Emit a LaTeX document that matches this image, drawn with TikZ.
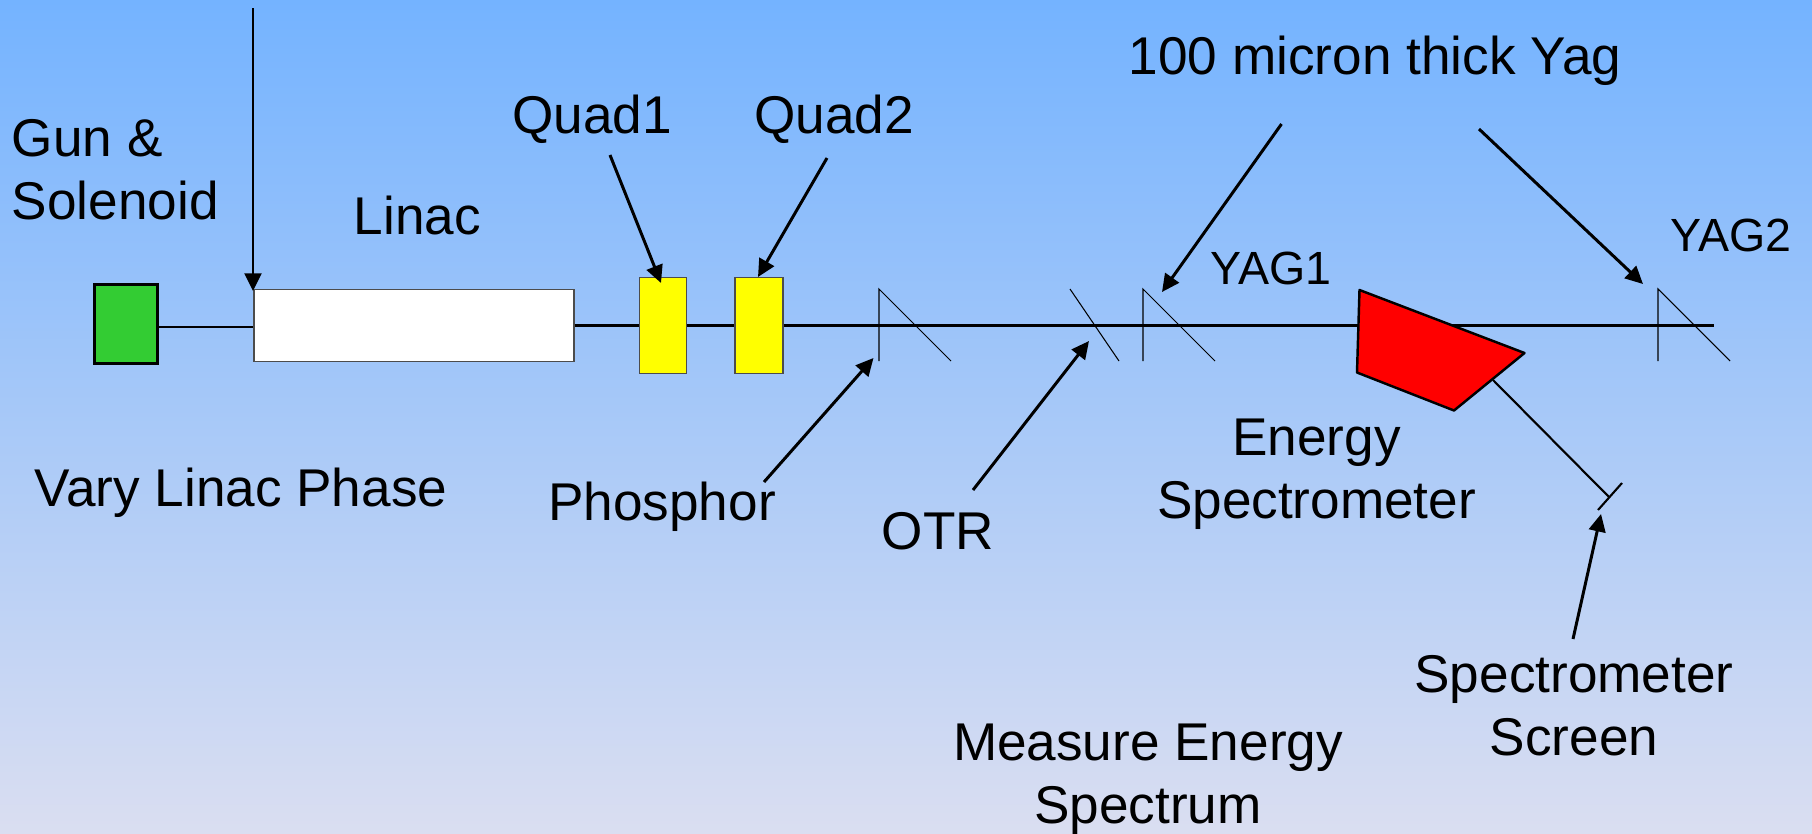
\documentclass[tikz,border=0pt]{standalone}
\usepackage{fontspec}
\setmainfont{Liberation Sans}
\usetikzlibrary{arrows.meta}
\definecolor{skytop}{RGB}{116,179,255}
\definecolor{skymid}{RGB}{163,205,245}
\definecolor{skybot}{RGB}{218,222,241}
\definecolor{gunfill}{RGB}{51,204,51}
\definecolor{quadfill}{RGB}{255,255,0}
\definecolor{magfill}{RGB}{255,0,0}
\tikzset{
  lbl/.style={inner sep=0pt,align=center,font=\fontsize{30.25}{36}\selectfont},
  lblsmall/.style={inner sep=0pt,font=\fontsize{26.5}{31}\selectfont},
  beam/.style={line width=1.2pt},
  thinmark/.style={line width=0.6pt},
  pointer/.style={line width=1.7pt,-{Triangle[length=10pt,width=9.5pt]}}
}

\begin{document}
\begin{tikzpicture}[x=0.02cm,y=-0.02cm]
   \shade[top color=skytop,middle color=skymid,bottom color=skybot] (0,0) rectangle (1812,833);
   \useasboundingbox (0,0) rectangle (1812,833);
   % beamline
   \coordinate (beamy)   at (0,327);
   \coordinate (beamend) at (1714,325.5);
   \node[draw=black,line width=1.4pt,fill=gunfill,minimum width=1.26cm,minimum height=1.58cm,inner sep=0pt] (gun) at (126,324) {};
   \node[draw=black!70,line width=0.7pt,fill=white,minimum width=6.4cm,minimum height=1.44cm,inner sep=0pt] (linac) at (414,325.5) {};
   \node[draw=black!70,line width=0.7pt,fill=quadfill,minimum width=0.95cm,minimum height=1.92cm,inner sep=0pt] (quada) at (663,325.5) {};
   \node[draw=black!70,line width=0.7pt,fill=quadfill,minimum width=0.96cm,minimum height=1.92cm,inner sep=0pt] (quadb) at (759,325.5) {};
   \coordinate (magtl) at (1359.5,290);
   \coordinate (magtr) at (1524.5,353);
   \coordinate (magbr) at (1454,410.5);
   \coordinate (magbl) at (1357,372.5);
   \coordinate (magout) at (1493,380);
   \coordinate (magin) at (1358,325.5);
   \coordinate (magexit) at (1450,325.5);
   \coordinate (scrmid) at (1609,497);
   \draw[beam] (gun.east |- beamy) -- (linac.west |- beamy);
   \draw[beam] (linac.east) -- (quada.west);
   \draw[beam] (quada.east) -- (quadb.west);
   \draw[beam] (quadb.east) -- (magin);
   \draw[beam] (magexit) -- (beamend);
   \draw[beam] (magout) -- (scrmid);
   \draw[line width=1.4pt,fill=magfill,line join=round] (magtl) -- (magtr) -- (magbr) -- (magbl) -- cycle;
   % screens
   \coordinate (phosa) at (879,289);
   \coordinate (phosb) at (879,361);
   \coordinate (phosc) at (951,361);
   \coordinate (otra)  at (1070,289);
   \coordinate (otrb)  at (1119,361);
   \coordinate (yagaa) at (1143,289);
   \coordinate (yagab) at (1143,361);
   \coordinate (yagac) at (1215,361);
   \coordinate (yagba) at (1658,289);
   \coordinate (yagbb) at (1658,361);
   \coordinate (yagbc) at (1730,361);
   \coordinate (scra)  at (1622,483);
   \coordinate (scrb)  at (1598,510);
   \draw[thinmark] (phosb) -- (phosa) -- (phosc);
   \draw[thinmark] (otra) -- (otrb);
   \draw[thinmark] (yagab) -- (yagaa) -- (yagac);
   \draw[thinmark] (yagbb) -- (yagba) -- (yagbc);
   \draw[beam] (scra) -- (scrb);
   % labels
   \node[lbl,anchor=west,align=left] (gunlbl) at (11.5,170) {Gun \&\\Solenoid};
   \node[lbl] (linaclbl) at (417.5,215.5) {Linac};
   \node[lbl] (quadalbl) at (592,119.5) {Quad1};
   \node[lbl] (quadblbl) at (834,119.5) {Quad2};
   \node[lbl] (phaselbl) at (241,493) {Vary Linac Phase};
   \node[lbl] (phoslbl) at (662,507) {Phosphor};
   \node[lbl] (otrlbl) at (938,531) {OTR};
   \node[lbl] (speclbl) at (1316.5,474) {Energy\\Spectrometer};
   \node[lbl] (measlbl) at (1148,779) {Measure Energy\\Spectrum};
   \node[lbl] (scrlbl) at (1574,706) {Spectrometer\\Screen};
   \node[lbl] (yaglbl) at (1375,61) {100 micron thick Yag};
   \node[lblsmall] (yagalbl) at (1271,268) {YAG1};
   \node[lblsmall] (yagblbl) at (1731,235) {YAG2};
   % pointers
   \coordinate (phasestart) at (253,8);
   \coordinate (phasetip)   at (253,291);
   \coordinate (quadastart) at (610,155);
   \coordinate (quadatip)   at (661,283);
   \coordinate (quadbstart) at (827,158);
   \coordinate (quadbtip)   at (758,277);
   \coordinate (phosstart)  at (764,482);
   \coordinate (phostip)    at (873.5,358);
   \coordinate (otrstart)   at (973,490);
   \coordinate (otrtip)     at (1089,341);
   \coordinate (yagastart)  at (1281.5,124);
   \coordinate (yagatip)    at (1162,292);
   \coordinate (yagbstart)  at (1479,129);
   \coordinate (yagbtip)    at (1643,284);
   \coordinate (scrstart)   at (1573,639);
   \coordinate (scrtip)     at (1601,514);
   \draw[pointer] (phasestart) -- (phasetip);
   \draw[pointer] (quadastart) -- (quadatip);
   \draw[pointer] (quadbstart) -- (quadbtip);
   \draw[pointer] (phosstart) -- (phostip);
   \draw[pointer] (otrstart) -- (otrtip);
   \draw[pointer] (yagastart) -- (yagatip);
   \draw[pointer] (yagbstart) -- (yagbtip);
   \draw[pointer] (scrstart) -- (scrtip);
\end{tikzpicture}
\end{document}
